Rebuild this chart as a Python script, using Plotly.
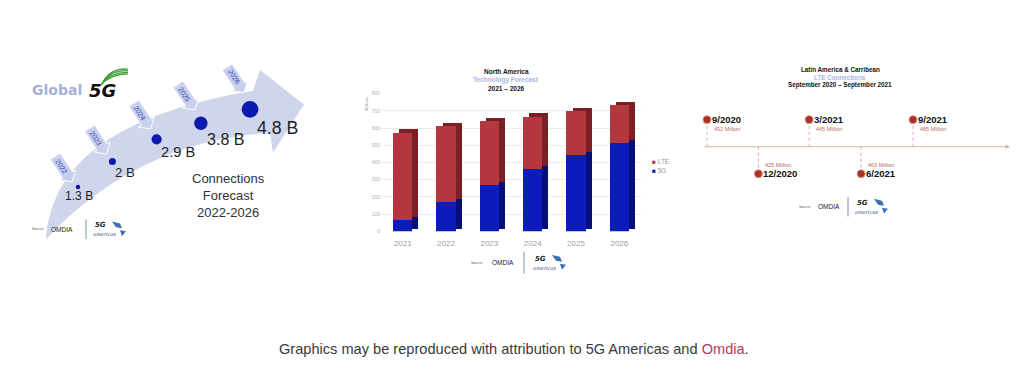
import math
import pandas as pd
import plotly.graph_objects as go

OFF = 8            # page body margin
W, H = 1024 - OFF, 370 - OFF

# ---------------- data ----------------
global_years = ["2022", "2023", "2024", "2025", "2026"]
global_values = [1.3, 2.0, 2.9, 3.8, 4.8]
global_labels = ["1.3 B", "2 B", "2.9 B", "3.8 B", "4.8 B"]

na_years = ["2021", "2022", "2023", "2024", "2025", "2026"]
na_5g = [70, 170, 270, 365, 447, 517]
na_lte = [506, 442, 371, 304, 253, 219]
na_ticks = [0, 100, 200, 300, 400, 500, 600, 700, 800]

la_dates = ["2020-09-01", "2020-12-01", "2021-03-01", "2021-06-01", "2021-09-01"]
la_date_labels = ["9/2020", "12/2020", "3/2021", "6/2021", "9/2021"]
la_values = [402, 425, 445, 463, 485]


# ---------------- helpers ----------------
def fx(p):
    return (p - OFF) / W


def fy(p):
    return 1 - (p - OFF) / H


def pp(x, y):
    return f"{fx(x):.5f},{fy(y):.5f}"


FONT = "Liberation Sans"
ann = []
shapes = []


def note(x, y, text, size, color, family=FONT, xanchor="center", yanchor="middle", **kw):
    ann.append(dict(x=fx(x), y=fy(y), xref="paper", yref="paper", text=text, showarrow=False,
                    xanchor=xanchor, yanchor=yanchor,
                    font=dict(family=family, size=size, color=color), **kw))


# panel 1 axis geometry (pixels)
P1_X0, P1_X1, P1_XR = 14.1, 309.0, (0, 6)
P1_Y0, P1_Y1 = 202.9, 63.6  # log10 range 0..1


def p1_px(v):
    x = P1_X0 + (P1_X1 - P1_X0) * (v - P1_XR[0]) / (P1_XR[1] - P1_XR[0])
    y = P1_Y0 - (P1_Y0 - P1_Y1) * math.log10(v)
    return x, y


fig = go.Figure()

# ---------------- panel 1: Global 5G ----------------
arrow_path = (
    "M " + pp(46, 240)
    + " C " + pp(52, 160) + " " + pp(120, 112) + " " + pp(253, 89)
    + " L " + pp(260, 68)
    + " L " + pp(304, 103)
    + " L " + pp(273, 152)
    + " L " + pp(270, 132)
    + " C " + pp(190, 136) + " " + pp(110, 170) + " " + pp(46, 240)
    + " Z"
)
shapes.append(dict(type="path", path=arrow_path, xref="paper", yref="paper",
                   fillcolor="#cfd6ec", line=dict(width=0), layer="below"))

ang = math.radians(57)
ux, uy = math.cos(ang), math.sin(ang)
nx, ny = -uy, ux
callout_local = [(-18, -6), (5, -6), (5, -9.5), (13, 0), (5, 9.5), (5, 6), (-18, 6)]
sizes = [v * 3.5 for v in global_values]
for yr, v, s in zip(global_years, global_values, sizes):
    dx, dy = p1_px(v)
    r = s / 2
    cx, cy = dx - 13, dy - 12 - 1.9 * r
    pts = [(cx + t * ux + q * nx, cy + t * uy + q * ny) for t, q in callout_local]
    path = "M " + " L ".join(pp(a, b) for a, b in pts) + " Z"
    shapes.append(dict(type="path", path=path, xref="paper", yref="paper",
                       fillcolor="#c8d0ee", line=dict(width=1, color="white"), layer="below"))
    note(cx - 6 * ux, cy - 6 * uy, yr, 7, "#2f3fae", textangle=57)

fig.add_trace(go.Scatter(
    x=global_values, y=global_values, mode="markers", xaxis="x", yaxis="y",
    marker=dict(size=sizes, color="#0c19b0", opacity=1, line=dict(width=0)),
    showlegend=False, hoverinfo="skip"))

for i, (v, lab, s) in enumerate(zip(global_values, global_labels, sizes)):
    fs = 10 + 1.6 * v
    r = s / 2
    ann.append(dict(x=v, y=math.log10(v), xref="x", yref="y", text=lab, showarrow=False,
                    xanchor="center" if i == 0 else "left", yanchor="top",
                    xshift=1 if i == 0 else r - 3, yshift=-r + 2,
                    font=dict(family=FONT, size=fs, color="#1e1e1e")))

note(30, 88, "<b>Global</b>", 14, "#a3b1da", family="DejaVu Sans", xanchor="left")
note(87, 89, "<b><i>5G</i></b>", 18, "#111111", family="DejaVu Sans", xanchor="left")
for k in range(4):
    shapes.append(dict(type="path", xref="paper", yref="paper",
                       path="M " + pp(100 + k * 1.5, 84 - k * 2.2) + " Q " + pp(110 + k, 72 - k * 2.2)
                       + " " + pp(128, 72 - k * 1.6),
                       line=dict(color="#3f9e3a", width=1.3)))
note(228, 196, "Connections<br>Forecast<br>2022-2026", 13, "#333333")


def logo(xs, xo, xd, xl, yc, hh):
    note(xs, yc, "Source:", 3.5, "#555")
    note(xo, yc, "OMDIA", 6.5, "#222")
    shapes.append(dict(type="line", xref="paper", yref="paper", x0=fx(xd), x1=fx(xd),
                       y0=fy(yc - hh), y1=fy(yc + hh), line=dict(color="#7d93b8", width=1)))
    note(xl, yc - 4, "<b><i>5G</i></b>", 7, "#222", family="DejaVu Sans")
    note(xl + 4, yc + 5, "<i>americas</i>", 5, "#2b3f7a", family="DejaVu Serif")
    blob = ("M " + pp(xl + 12, yc - 8) + " L " + pp(xl + 20, yc - 6) + " L " + pp(xl + 22, yc - 1)
            + " L " + pp(xl + 16, yc - 2) + " Z M " + pp(xl + 20, yc + 1) + " L " + pp(xl + 26, yc + 2)
            + " L " + pp(xl + 22, yc + 7) + " Z")
    shapes.append(dict(type="path", path=blob, xref="paper", yref="paper",
                       fillcolor="#3b6fb6", line=dict(width=0)))


logo(38, 62, 86, 100, 230, 10)
logo(477, 503, 524, 540, 264, 11)
logo(805, 829, 848, 862, 207, 10)

# ---------------- panel 2: North America ----------------
dy3d = 18
C_5G, C_5G_D = "#0b1bbd", "#060f78"
C_LTE, C_LTE_D = "#b3373e", "#7a1f24"
base_lte = list(na_5g)
fig.add_trace(go.Bar(x=na_years, y=na_5g, base=[dy3d] * len(na_5g), offset=-0.08, width=0.44,
                     marker=dict(color=C_5G_D, line=dict(width=0)), xaxis="x2", yaxis="y2",
                     showlegend=False, hoverinfo="skip"))
fig.add_trace(go.Bar(x=na_years, y=na_lte, base=[b + dy3d for b in base_lte], offset=-0.08, width=0.44,
                     marker=dict(color=C_LTE_D, line=dict(width=0)), xaxis="x2", yaxis="y2",
                     showlegend=False, hoverinfo="skip"))
fig.add_trace(go.Bar(x=na_years, y=na_5g, base=[0] * len(na_5g), offset=-0.22, width=0.44, name="5G",
                     marker=dict(color=C_5G, line=dict(width=0)), xaxis="x2", yaxis="y2",
                     showlegend=False))
fig.add_trace(go.Bar(x=na_years, y=na_lte, base=base_lte, offset=-0.22, width=0.44, name="LTE",
                     marker=dict(color=C_LTE, line=dict(width=0)), xaxis="x2", yaxis="y2",
                     showlegend=False))

# legend (small squares)
note(650, 161, f"<span style='color:{C_LTE}'>■</span> LTE", 6.5, "#999", xanchor="left")
note(650, 170, f"<span style='color:{C_5G}'>■</span> 5G", 6.5, "#999", xanchor="left")

note(506, 70, "<b>North America</b>", 6.5, "#111")
note(506, 78.5, "<b>Technology Forecast</b>", 6.5, "#a7b5e2")
note(506, 87, "<b>2021 – 2026</b>", 6.5, "#111")
note(366, 103, "Millions", 4, "#888", textangle=-90)

# ---------------- panel 3: Latin America timeline ----------------
d = pd.to_datetime(la_dates)
px_per_day = 51.5 / 91.25
x3_start = d[0] - pd.Timedelta(days=7 / px_per_day)
x3_end = d[0] + pd.Timedelta(days=308 / px_per_day)
ax_start = d[0] - pd.Timedelta(days=4 / px_per_day)
ax_end = d[0] + pd.Timedelta(days=303 / px_per_day)

side = [1 if i % 2 == 0 else -1 for i in range(len(la_dates))]
lx, ly = [], []
for dt, s in zip(d, side):
    lx += [dt, dt, None]
    ly += [0, s, None]
fig.add_trace(go.Scatter(x=lx, y=ly, mode="lines", xaxis="x3", yaxis="y3",
                         line=dict(color="#e3a7a2", width=1, dash="dot"),
                         showlegend=False, hoverinfo="skip"))
fig.add_trace(go.Scatter(x=d, y=side, mode="markers", xaxis="x3", yaxis="y3",
                         marker=dict(size=8, color="#a93128", line=dict(color="#d9938a", width=1)),
                         showlegend=False, hoverinfo="skip"))
ann.append(dict(x=ax_end, y=0, ax=ax_start, ay=0, xref="x3", yref="y3", axref="x3", ayref="y3",
                text="", showarrow=True, arrowhead=2, arrowsize=0.9, arrowwidth=1,
                arrowcolor="#c9b8a6"))
for dt, s, lab, v in zip(d, side, la_date_labels, la_values):
    ann.append(dict(x=dt, y=s, xref="x3", yref="y3", text=f"<b>{lab}</b>", showarrow=False,
                    xanchor="left", yanchor="middle", xshift=3,
                    font=dict(family=FONT, size=9.5, color="#111")))
    ann.append(dict(x=dt, y=s, xref="x3", yref="y3", text=f"{v} Million", showarrow=False,
                    xanchor="left", yanchor="middle", xshift=5, yshift=-9 * s,
                    font=dict(family=FONT, size=5.5, color="#b36c63")))

note(840, 67.5, "<b>Latin America &amp; Carribean</b>", 6.3, "#111")
note(840, 75.3, "<b>LTE Connections</b>", 6.3, "#a7b5e2")
note(840, 83.5, "<b>September 2020 – September 2021</b>", 6.3, "#111")

# ---------------- caption ----------------
note(514, 352, "Graphics may be reproduced with attribution to 5G Americas and "
               "<span style='color:#b8385e'>Omdia</span>.", 14.6, "#3a3a3a")

hidden = dict(visible=False, showgrid=False, zeroline=False)
fig.update_layout(
    width=W, height=H, autosize=False,
    margin=dict(l=0, r=0, t=0, b=0),
    paper_bgcolor="white", plot_bgcolor="rgba(0,0,0,0)",
    barmode="overlay", bargap=0, showlegend=False,
    xaxis=dict(domain=[fx(P1_X0), fx(P1_X1)], range=list(P1_XR), **hidden),
    yaxis=dict(domain=[fy(P1_Y0), fy(P1_Y1)], type="log", range=[0, 1], **hidden),
    xaxis2=dict(domain=[fx(381), fx(641)], type="category", range=[-0.5, 5.5],
                showgrid=False, zeroline=False, showline=False, ticks="", ticklabelstandoff=6,
                tickfont=dict(family=FONT, size=8, color="#a0a0a0"), anchor="y2"),
    yaxis2=dict(domain=[fy(232), fy(92)], range=[0, 800], tickvals=na_ticks,
                showgrid=True, gridcolor="#ececec", gridwidth=1, zeroline=False, showline=False,
                tickfont=dict(family=FONT, size=5, color="#b0b0b0"), anchor="x2"),
    xaxis3=dict(domain=[fx(700), fx(1015)], type="date", range=[x3_start, x3_end], anchor="y3", **hidden),
    yaxis3=dict(domain=[fy(228.5), fy(63.5)], range=[-3, 3], anchor="x3", **hidden),
    shapes=shapes, annotations=ann,
)

fig.write_html("out.html")
